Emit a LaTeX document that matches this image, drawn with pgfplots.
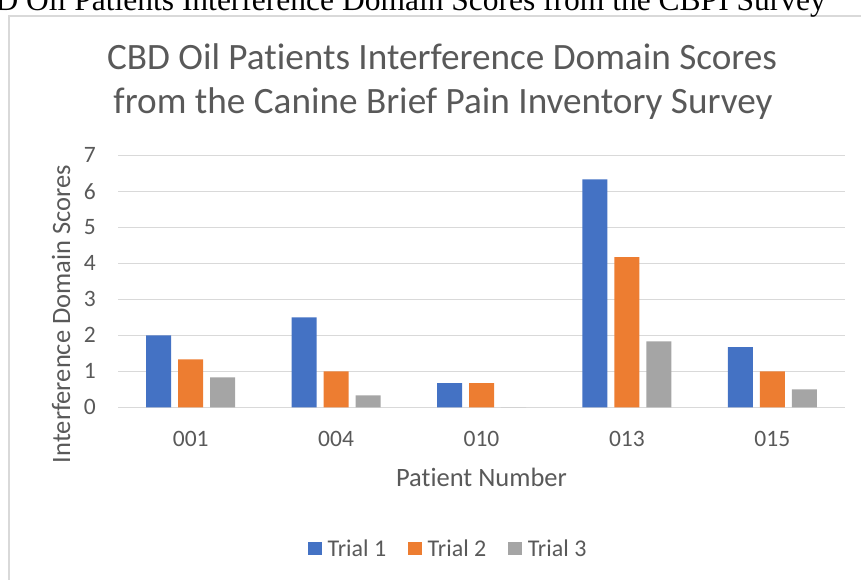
\documentclass[border=0pt]{standalone}
\usepackage{pgfplots}
\pgfplotsset{compat=1.18}
\usepackage{fontspec}
\setmainfont{Carlito}[Ligatures=NoCommon]
\newfontfamily\timesfont{Liberation Serif}
\definecolor{tblue}{HTML}{4472C4}
\definecolor{torange}{HTML}{ED7D31}
\definecolor{tgray}{HTML}{A5A5A5}
\definecolor{gridc}{HTML}{D9D9D9}
\definecolor{txt}{HTML}{595959}
\begin{document}
\begin{tikzpicture}[x=1pt,y=1pt]
\path[use as bounding box] (0,0) rectangle (861,580);
\draw[gridc, line width=1.3pt] (9,-20) -- (9,564) -- (880,564);
\node[anchor=base east, font=\timesfont\fontsize{31.5}{36}\selectfont, inner sep=0pt] at (826,569.5) {CBD Oil Patients Interference Domain Scores from the CBPI Survey};
\node[anchor=base, inner sep=0pt, text=txt, font=\fontsize{37.2}{45}\selectfont] at (442,510.7) {CBD Oil Patients Interference Domain Scores};
\node[anchor=base, inner sep=0pt, text=txt, font=\fontsize{37.2}{45}\selectfont] at (443,466.5) {from the Canine Brief Pain Inventory Survey};
\begin{axis}[
  at={(118pt,172.7pt)}, anchor=south west,
  width=727pt, height=252pt, scale only axis,
  xmin=-0.5, xmax=4.5, ymin=0, ymax=7,
  ybar=7pt, bar width=25pt,
  xtick={0,1,2,3,4}, xticklabels={001,004,010,013,015},
  ytick={0,1,2,3,4,5,6,7},
  major tick length=0pt,
  axis line style={draw=none},
  ymajorgrids, grid style={gridc, line width=1.3pt},
  tick label style={font=\fontsize{23.5}{28}\selectfont, text=txt, inner sep=0pt},
  /pgf/number format/assume math mode=true,
  yticklabel style={anchor=east, xshift=-22pt},
  xticklabel style={anchor=base, yshift=-39.3pt},
  xlabel={Patient Number}, ylabel={Interference Domain Scores},
  label style={font=\fontsize{26.5}{32}\selectfont, text=txt, inner sep=0pt},
  xlabel style={at={(axis description cs:0.5,-0.3143)}, anchor=base},
  ylabel style={at={(axis description cs:-0.066,0.3702)}, anchor=base},
  legend style={at={(axis description cs:0.453,-0.561)}, anchor=center, draw=none, fill=none,
    legend columns=3, font=\fontsize{24}{29}\selectfont, text=txt,
    /tikz/every odd column/.append style={column sep=6pt},
    /tikz/every even column/.append style={column sep=22pt},
    nodes={inner sep=0pt}},
  legend image code/.code={\fill[#1] (0pt,-6.7pt) rectangle (13.4pt,6.7pt);},
]
\addplot[fill=tblue, draw=none] coordinates {(0,2) (1,2.5) (2,0.67) (3,6.33) (4,1.67)};
\addplot[fill=torange, draw=none] coordinates {(0,1.33) (1,1) (2,0.67) (3,4.17) (4,1)};
\addplot[fill=tgray, draw=none] coordinates {(0,0.83) (1,0.33) (2,0) (3,1.83) (4,0.5)};
\legend{Trial 1, Trial 2, Trial 3}
\end{axis}
\end{tikzpicture}
\end{document}
